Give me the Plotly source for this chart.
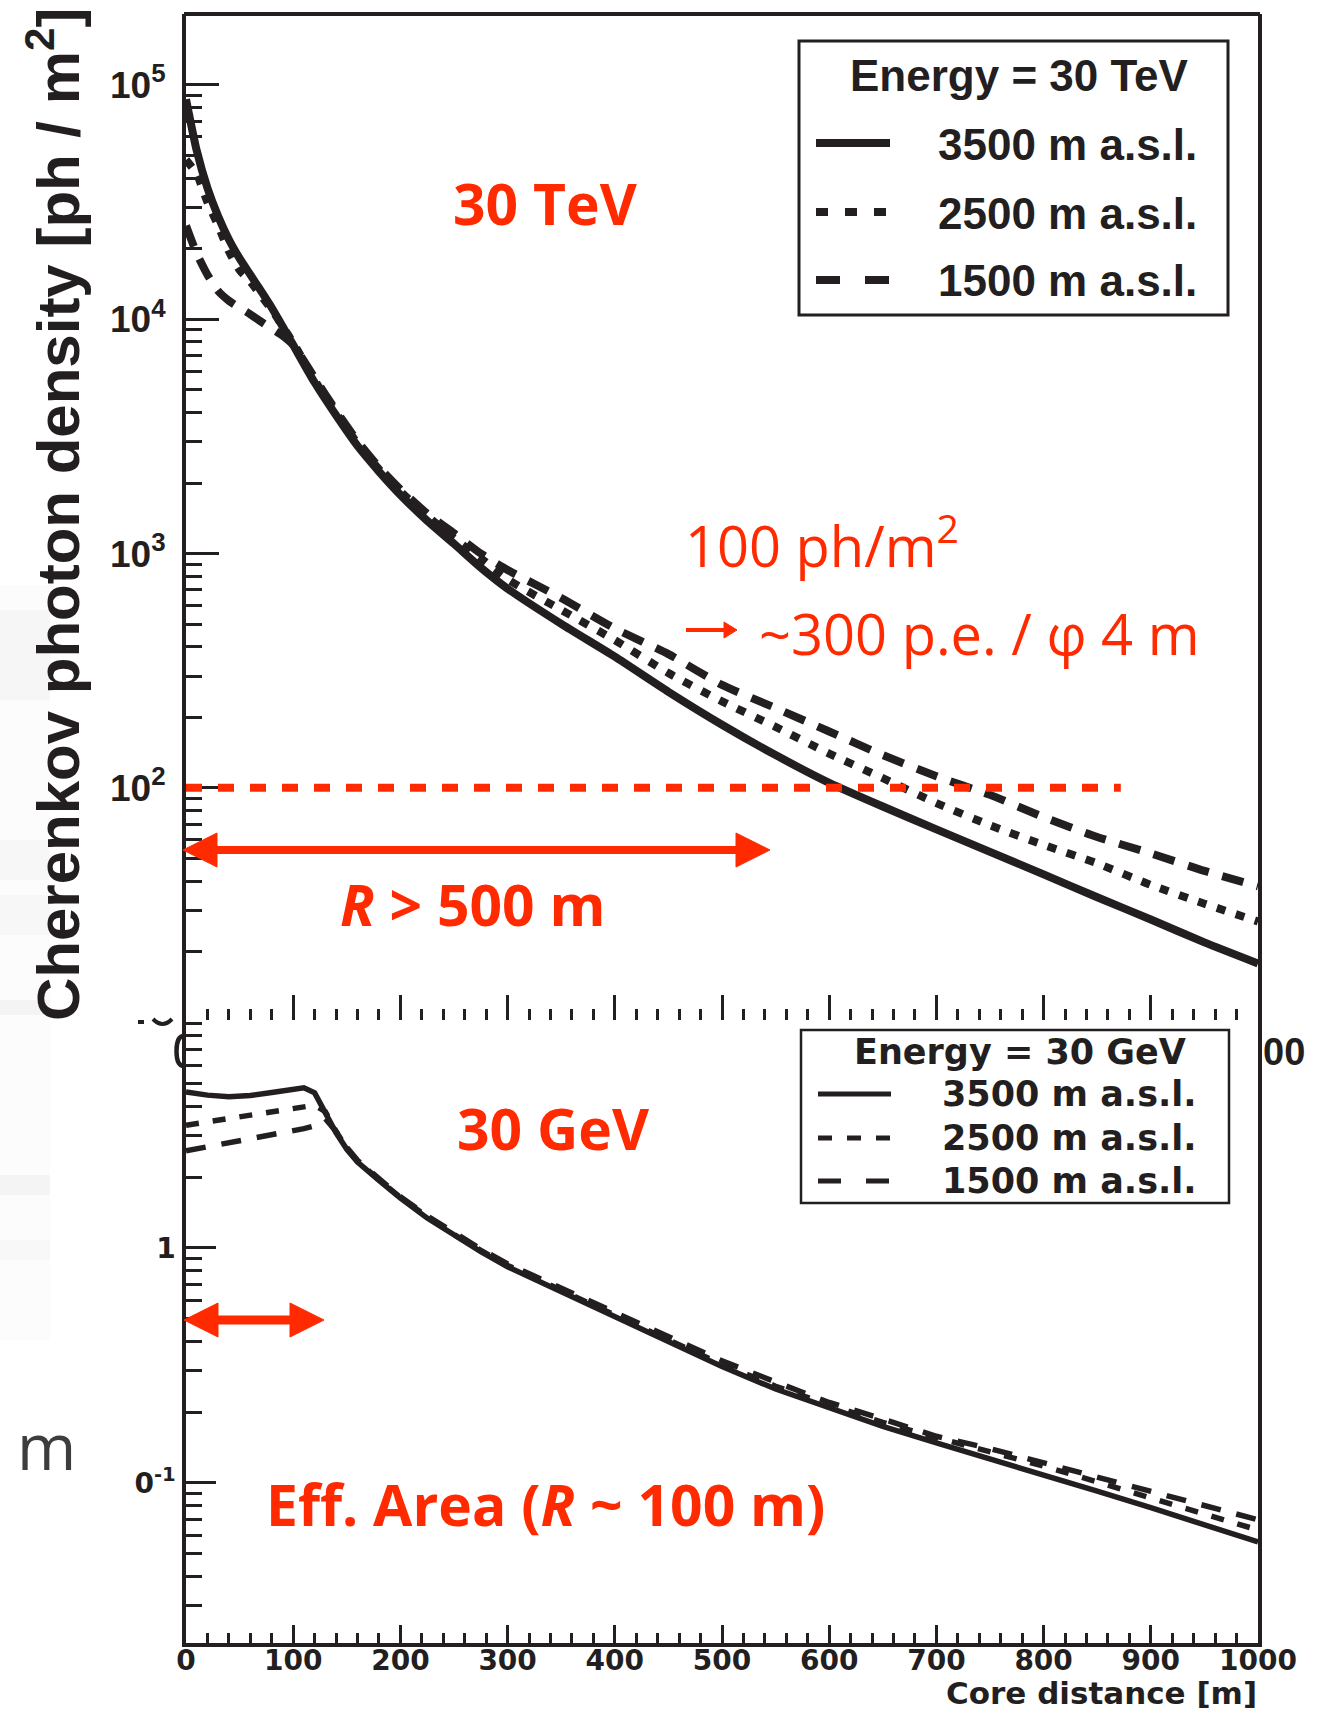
import plotly.graph_objects as go

W, H = 1329, 1712
INK = "#231f20"
RED = "#ff2a00"
GREY = "#3d3d3d"

# ---------------- 30 TeV showers: Cherenkov photon density [ph/m^2] ----------------
r_tev = [0, 10, 20, 30, 40, 50, 60, 70, 80, 90, 100, 120, 140, 160, 180, 200, 225, 250,
         275, 300, 350, 400, 450, 500, 550, 600, 650, 700, 750, 800, 850, 900, 950, 1000]
tev_3500 = [87000, 52500, 36300, 27500, 21900, 18200, 15500, 13200, 11200, 9330, 7760,
            5370, 3890, 2880, 2240, 1780, 1380, 1100, 871, 708, 501, 363, 257, 186, 138,
            105, 83.2, 66.5, 53.3, 42.7, 34.1, 27.4, 21.9, 17.8]
tev_2500 = [47900, 41700, 31600, 25100, 19500, 16200, 14500, 12600, 11000, 9330, 7940,
            5500, 3980, 2950, 2290, 1840, 1450, 1160, 955, 776, 575, 427, 309, 234, 182,
            140, 110, 86.1, 69.2, 57.1, 47.6, 38.5, 32.0, 26.9]
tev_1500 = [25100, 19100, 15500, 13200, 12000, 11200, 10500, 9770, 9120, 8510, 7760,
            5620, 4070, 3020, 2340, 1880, 1480, 1220, 1000, 851, 646, 479, 372, 275, 219,
            174, 138, 112, 93.3, 75.0, 61.7, 52.5, 44.2, 38.0]

# ---------------- 30 GeV showers ----------------
r_gev = [0, 20, 40, 60, 80, 100, 110, 120, 130, 140, 150, 160, 180, 200, 225, 250, 275,
         300, 350, 400, 450, 500, 550, 600, 650, 700, 750, 800, 850, 900, 950, 1000]
gev_3500 = [4.61, 4.47, 4.40, 4.45, 4.59, 4.76, 4.80, 4.57, 3.76, 3.09, 2.63, 2.32, 1.94,
            1.63, 1.34, 1.13, 0.964, 0.832, 0.650, 0.507, 0.398, 0.313, 0.251, 0.208,
            0.174, 0.148, 0.127, 0.109, 0.0923, 0.0785, 0.0665, 0.0561]
gev_2500 = [3.33, 3.44, 3.56, 3.67, 3.79, 3.92, 3.98, 4.05, 3.80, 3.13, 2.66, 2.34, 1.95,
            1.64, 1.36, 1.14, 0.977, 0.843, 0.661, 0.515, 0.406, 0.320, 0.258, 0.215,
            0.181, 0.156, 0.136, 0.118, 0.101, 0.0865, 0.0738, 0.0631]
gev_1500 = [2.59, 2.69, 2.81, 2.92, 3.05, 3.16, 3.22, 3.31, 3.55, 3.13, 2.68, 2.36, 1.96,
            1.65, 1.37, 1.16, 0.989, 0.855, 0.673, 0.527, 0.417, 0.331, 0.269, 0.220,
            0.187, 0.158, 0.140, 0.122, 0.105, 0.0923, 0.080, 0.0697]

altitudes = ["3500 m a.s.l.", "2500 m a.s.l.", "1500 m a.s.l."]
threshold_density = 100        # ph/m^2 threshold line
threshold_reach = 872          # m, extent of the threshold line
top_ticks = [1e2, 1e3, 1e4, 1e5]
top_ticktext = ["10<sup>2</sup>", "10<sup>3</sup>", "10<sup>4</sup>", "10<sup>5</sup>"]
bottom_ticks = [0.1, 1]
bottom_ticktext = ["0<sup>-1</sup>", "1"]

# line styles per altitude
dash_top = ["solid", "9px,11px", "22px,14px"]
dash_bottom = ["solid", "13px,14px", "20px,16px"]
dash_key_top = ["solid", "12px,17px", "24px,25px"]
dash_key_bottom = ["solid", "14px,15px", "23px,25px"]


def px(x):
    return x / W


def py(y):
    return 1 - y / H


X0, X1 = px(186), px(1258)
TOP_DOM = [py(1020), py(14)]
BOT_DOM = [py(1643), py(1020)]

HELV = "Liberation Sans, Arial, sans-serif"
WIDE = "DejaVu Sans, Verdana, sans-serif"
MYR = "Open Sans, Noto Sans, sans-serif"

fig = go.Figure()

for ys, dash, name in zip([tev_3500, tev_2500, tev_1500], dash_top, altitudes):
    fig.add_trace(go.Scatter(x=r_tev, y=ys, mode="lines", name=name,
                             line=dict(color=INK, width=8, dash=dash, shape="spline",
                                       smoothing=0.6),
                             xaxis="x", yaxis="y", showlegend=False))

for ys, dash, name in zip([gev_3500, gev_2500, gev_1500], dash_bottom, altitudes):
    fig.add_trace(go.Scatter(x=r_gev, y=ys, mode="lines", name=name,
                             line=dict(color=INK, width=5.5, dash=dash),
                             xaxis="x2", yaxis="y2", showlegend=False))

minor_top = [k * 10 ** n for n in range(1, 6) for k in range(2, 10) if k * 10 ** n <= 2e5]
minor_bot = [k * 10 ** n for n in (-2, -1, 0) for k in range(2, 10)]

shapes = []
annotations = []

# faint background smudges along the left edge
for y0, y1, a in [(585, 1340, 0.012), (610, 700, 0.025), (840, 880, 0.02), (895, 935, 0.02),
                  (1000, 1015, 0.03), (1175, 1195, 0.03), (1240, 1260, 0.015)]:
    shapes.append(dict(type="rect", xref="paper", yref="paper", layer="below",
                       x0=px(0), x1=px(50), y0=py(y1), y1=py(y0),
                       fillcolor=f"rgba(0,0,0,{a})", line=dict(width=0)))

# top frame edge of the upper panel
shapes.append(dict(type="line", xref="paper", yref="paper", x0=px(184), x1=px(1260),
                   y0=py(14), y1=py(14), line=dict(color=INK, width=4)))

# threshold line
shapes.append(dict(type="line", xref="x", yref="y", x0=0, x1=threshold_reach,
                   y0=threshold_density, y1=threshold_density,
                   line=dict(color=RED, width=8, dash="16px,16px")))


def arrow(xl, xr, yc, head_len, head_half, width, both=True):
    x_start = xl + head_len - 2 if both else xl
    shapes.append(dict(type="line", xref="paper", yref="paper",
                       x0=px(x_start), x1=px(xr - head_len + 2), y0=py(yc), y1=py(yc),
                       line=dict(color=RED, width=width)))
    heads = [(xl, xl + head_len), (xr, xr - head_len)] if both else [(xr, xr - head_len)]
    for tip, base in heads:
        path = (f"M {px(tip)},{py(yc)} L {px(base)},{py(yc - head_half)} "
                f"L {px(base)},{py(yc + head_half)} Z")
        shapes.append(dict(type="path", xref="paper", yref="paper", path=path,
                           fillcolor=RED, line=dict(color=RED, width=1)))


arrow(183, 770, 850, 34, 17, 8)
arrow(184, 324, 1320, 34, 17, 9)
arrow(686, 737, 630, 13, 8, 4, both=False)

# legend of the upper panel
shapes.append(dict(type="rect", xref="paper", yref="paper", x0=px(799), x1=px(1228),
                   y0=py(315), y1=py(41), line=dict(color=INK, width=3)))
annotations.append(dict(xref="paper", yref="paper", x=px(1019), y=py(75), text="Energy = 30 TeV",
                        showarrow=False, xanchor="center", yanchor="middle",
                        font=dict(family=HELV, size=44, color=INK, weight="bold")))
for name, dash, yrow in zip(altitudes, dash_key_top, [143, 212, 280]):
    shapes.append(dict(type="line", xref="paper", yref="paper", x0=px(816), x1=px(890),
                       y0=py(yrow), y1=py(yrow), line=dict(color=INK, width=8, dash=dash)))
    annotations.append(dict(xref="paper", yref="paper", x=px(1067), y=py(yrow + 1), text=name,
                            showarrow=False, xanchor="center", yanchor="middle",
                            font=dict(family=HELV, size=44, color=INK, weight="bold")))

# legend of the lower panel
shapes.append(dict(type="rect", xref="paper", yref="paper", x0=px(801), x1=px(1229),
                   y0=py(1203), y1=py(1030), fillcolor="white", line=dict(color=INK, width=2.5)))
annotations.append(dict(xref="paper", yref="paper", x=px(1020), y=py(1052), text="Energy = 30 GeV",
                        showarrow=False, xanchor="center", yanchor="middle",
                        font=dict(family=WIDE, size=35, color=INK, weight="bold")))
for name, dash, yrow in zip(altitudes, dash_key_bottom, [1094, 1138, 1181]):
    shapes.append(dict(type="line", xref="paper", yref="paper", x0=px(818), x1=px(891),
                       y0=py(yrow), y1=py(yrow), line=dict(color=INK, width=5, dash=dash)))
    annotations.append(dict(xref="paper", yref="paper", x=px(1069), y=py(yrow), text=name,
                            showarrow=False, xanchor="center", yanchor="middle",
                            font=dict(family=WIDE, size=35, color=INK, weight="bold")))

# partly hidden tick labels where the two panels meet
shapes.append(dict(type="path", xref="paper", yref="paper",
                   path=(f"M {px(184)},{py(1036)} C {px(178)},{py(1036)} {px(176.5)},{py(1043)} "
                         f"{px(176.5)},{py(1051)} C {px(176.5)},{py(1059)} {px(178)},{py(1066)} "
                         f"{px(184)},{py(1066)}"),
                   line=dict(color=INK, width=4.5)))
shapes.append(dict(type="path", xref="paper", yref="paper",
                   path=f"M {px(153)},{py(1019)} Q {px(162.5)},{py(1029)} {px(172)},{py(1019)}",
                   line=dict(color=INK, width=4)))
shapes.append(dict(type="rect", xref="paper", yref="paper", x0=px(138), x1=px(144),
                   y0=py(1024), y1=py(1020), fillcolor=INK, line=dict(width=0)))
annotations.append(dict(xref="paper", yref="paper", x=px(1261), y=py(1052), text="00",
                        showarrow=False, xanchor="left", yanchor="middle",
                        font=dict(family=HELV, size=38, color=INK, weight="bold")))

# axis titles
annotations.append(dict(xref="paper", yref="paper", x=px(54), y=py(515),
                        text="Cherenkov photon density [ph / m<sup>2</sup>]", textangle=-90,
                        showarrow=False, xanchor="center", yanchor="middle",
                        font=dict(family=HELV, size=60, color=INK, weight="bold")))
annotations.append(dict(xref="paper", yref="paper", x=px(1259), y=py(1693), text="Core distance [m]",
                        showarrow=False, xanchor="right", yanchor="middle",
                        font=dict(family=WIDE, size=31, color=INK, weight="bold")))

# red remarks
red_bold = dict(family=MYR, size=57, color=RED, weight="bold")
red_reg = dict(family=MYR, size=56, color=RED)
for txt, x, y, anchor, f in [
    ("30 TeV", 545, 203, "center", red_bold),
    ("30 GeV", 553, 1128, "center", red_bold),
    ("<i>R</i> > 500 m", 472, 904, "center", red_bold),
    ("Eff. Area (<i>R</i> ~ 100 m)", 545, 1504, "center", red_bold),
    ("100 ph/m<sup>2</sup>", 683, 542, "left", red_reg),
    ("~300 p.e. / φ 4 m", 757, 633, "left", red_reg),
]:
    annotations.append(dict(xref="paper", yref="paper", x=px(x), y=py(y), text=txt,
                            showarrow=False, xanchor=anchor, yanchor="middle", font=f))

annotations.append(dict(xref="paper", yref="paper", x=px(46), y=py(1445), text="m",
                        showarrow=False, xanchor="center", yanchor="middle",
                        font=dict(family=MYR, size=64, color=GREY)))

fig.update_layout(
    width=W, height=H, autosize=False,
    margin=dict(l=0, r=0, t=0, b=0, pad=0, autoexpand=False),
    paper_bgcolor="white", plot_bgcolor="rgba(0,0,0,0)",
    showlegend=False,
    xaxis=dict(domain=[X0, X1], anchor="y", range=[0, 1000], showline=False, showgrid=False,
               zeroline=False, ticks="inside", ticklen=25, tickwidth=3, tickcolor=INK,
               tick0=0, dtick=100, showticklabels=False, automargin=False,
               minor=dict(tick0=0, dtick=20, ticks="inside", ticklen=11, tickwidth=3,
                          tickcolor=INK, showgrid=False)),
    yaxis=dict(domain=TOP_DOM, anchor="x", type="log", range=[1.009, 5.303],
               showline=True, linewidth=4, linecolor=INK, mirror=True, showgrid=False,
               zeroline=False, ticks="inside", ticklen=33, tickwidth=3, tickcolor=INK,
               tickmode="array", tickvals=top_ticks, ticktext=top_ticktext,
               ticklabelstandoff=9, automargin=False,
               tickfont=dict(family=HELV, size=37, color=INK, weight="bold"),
               minor=dict(tickmode="array", tickvals=minor_top, ticks="inside", ticklen=16,
                          tickwidth=3, tickcolor=INK, showgrid=False)),
    xaxis2=dict(domain=[X0, X1], anchor="y2", range=[0, 1000], showline=True, linewidth=3.5,
                linecolor=INK, showgrid=False, zeroline=False, ticks="inside", ticklen=18,
                tickwidth=3, tickcolor=INK, tick0=0, dtick=100, ticklabelstandoff=-10,
                automargin=False,
                tickfont=dict(family=WIDE, size=28, color=INK, weight="bold"),
                minor=dict(tick0=0, dtick=20, ticks="inside", ticklen=10, tickwidth=3,
                           tickcolor=INK, showgrid=False)),
    yaxis2=dict(domain=BOT_DOM, anchor="x2", type="log", range=[-1.681, 0.970],
                showline=True, linewidth=3.5, linecolor=INK, mirror=True, showgrid=False,
                zeroline=False, ticks="inside", ticklen=30, tickwidth=3, tickcolor=INK,
                tickmode="array", tickvals=bottom_ticks, ticktext=bottom_ticktext,
                ticklabelstandoff=1, automargin=False,
                tickfont=dict(family=WIDE, size=28, color=INK, weight="bold"),
                minor=dict(tickmode="array", tickvals=minor_bot, ticks="inside", ticklen=16,
                           tickwidth=3, tickcolor=INK, showgrid=False)),
    shapes=shapes,
    annotations=annotations,
)

fig.write_html("out.html", config={"responsive": False})
